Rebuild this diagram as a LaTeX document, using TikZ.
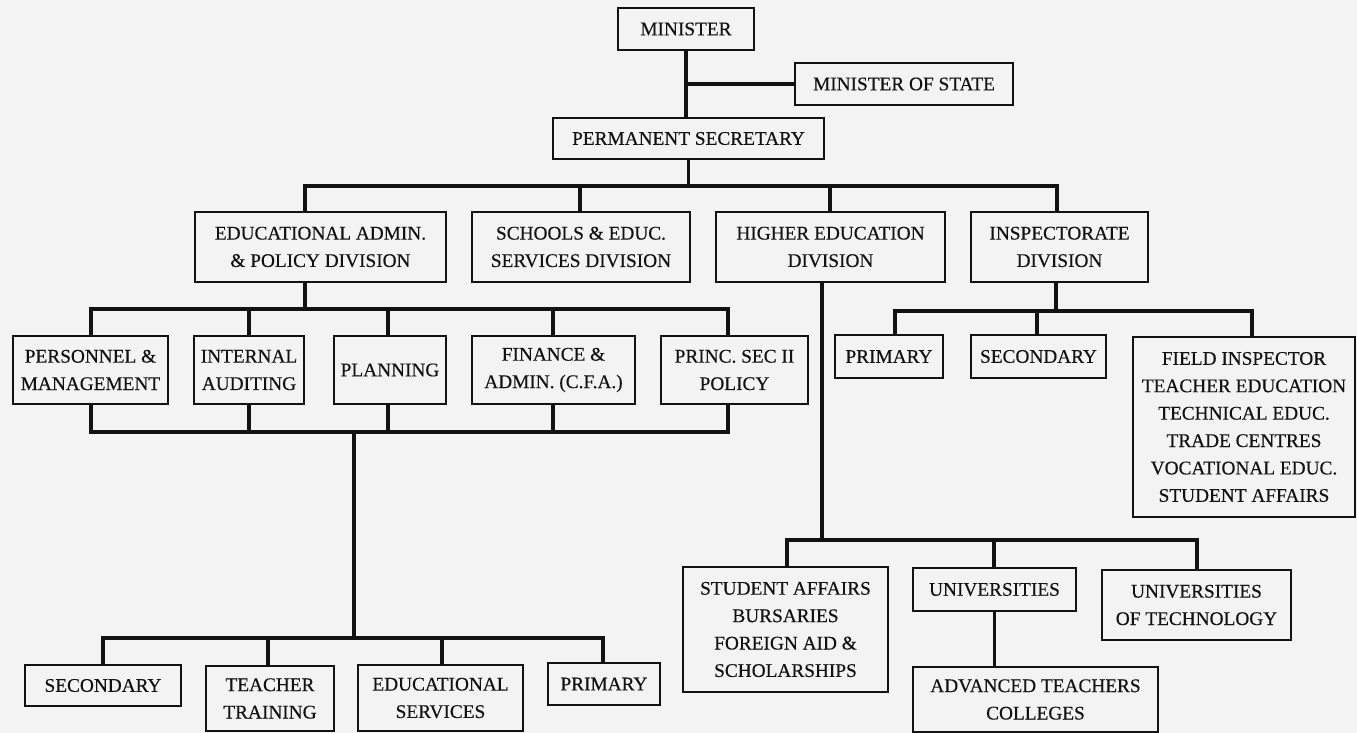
\documentclass[tikz,border=0pt]{standalone}
\usepackage{fontspec}
\setmainfont{Liberation Serif}
\newfontfamily\chartfont{Liberation Serif}[FakeBold=0.35]
\definecolor{paper}{RGB}{243,243,243}
\definecolor{ink}{RGB}{18,18,18}
\tikzset{
  box/.style={draw=ink, line width=2.8pt, fill=paper, inner sep=0pt, align=center,
    text=ink, font=\chartfont\fontsize{19.3}{27.4}\selectfont},
  link/.style={draw=ink, line width=3.8pt},
  bus/.style={link, line cap=rect},
}
\begin{document}
\begin{tikzpicture}[x=1pt,y=-1pt]
\useasboundingbox (0,0) rectangle (1357,733);
\fill[paper] (0,0) rectangle (1357,733);

% ---- top levels
\node[box, minimum width=136pt, minimum height=42pt] (min) at (686,29) {MINISTER};
\node[box, minimum width=218pt, minimum height=42pt] (mos) at (904,84) {MINISTER OF STATE};
\node[box, minimum width=271pt, minimum height=41pt] (ps) at (688.5,138.5) {PERMANENT SECRETARY};

% ---- divisions
\node[box, minimum width=251pt, minimum height=70pt] (ead) at (320.5,247) {EDUCATIONAL ADMIN.\\ \& POLICY DIVISION};
\node[box, minimum width=218pt, minimum height=70pt] (sch) at (581,247) {SCHOOLS \& EDUC.\\ SERVICES DIVISION};
\node[box, minimum width=229pt, minimum height=70pt] (hed) at (830.5,247) {HIGHER EDUCATION\\ DIVISION};
\node[box, minimum width=177pt, minimum height=70pt] (ins) at (1059.5,247) {INSPECTORATE\\ DIVISION};

% ---- under educational admin
\node[box, minimum width=155pt, minimum height=68pt] (per) at (90.5,370) {PERSONNEL \&\\ MANAGEMENT};
\node[box, minimum width=110pt, minimum height=68pt] (int) at (249,370) {INTERNAL\\ AUDITING};
\node[box, minimum width=112pt, minimum height=68pt] (pla) at (390,370) {PLANNING};
\node[box, minimum width=163pt, minimum height=68pt] (fin) at (553.5,370) {FINANCE \&\\ ADMIN. (C.F.A.)};
\node[box, minimum width=147pt, minimum height=68pt] (pol) at (734.5,370) {PRINC. SEC II\\ POLICY};

% ---- under inspectorate
\node[box, minimum width=108pt, minimum height=43pt] (ipr) at (889,356.5) {PRIMARY};
\node[box, minimum width=135pt, minimum height=43pt] (isc) at (1038.5,356.5) {SECONDARY};
\node[box, minimum width=222pt, minimum height=180pt] (fld) at (1244,427) {FIELD INSPECTOR\\ TEACHER EDUCATION\\ TECHNICAL EDUC.\\ TRADE CENTRES\\ VOCATIONAL EDUC.\\ STUDENT AFFAIRS};

% ---- bottom left
\node[box, minimum width=156pt, minimum height=41pt] (bsc) at (103,685.5) {SECONDARY};
\node[box, minimum width=128pt, minimum height=65pt] (btt) at (270,698.5) {TEACHER\\ TRAINING};
\node[box, minimum width=165pt, minimum height=66pt] (bes) at (440.5,698) {EDUCATIONAL\\ SERVICES};
\node[box, minimum width=112pt, minimum height=42pt] (bpr) at (604,684) {PRIMARY};

% ---- under higher education
\node[box, minimum width=205pt, minimum height=125pt] (sa) at (785.5,629.5) {STUDENT AFFAIRS\\ BURSARIES\\ FOREIGN AID \&\\ SCHOLARSHIPS};
\node[box, minimum width=163pt, minimum height=43pt] (uni) at (994.5,589.5) {UNIVERSITIES};
\node[box, minimum width=189pt, minimum height=70pt] (uot) at (1196.5,605) {UNIVERSITIES\\ OF TECHNOLOGY};
\node[box, minimum width=245pt, minimum height=65pt] (atc) at (1035.5,699.5) {ADVANCED TEACHERS\\ COLLEGES};

% ---- junction coordinates
\coordinate (t1) at (305,186);
\coordinate (t2) at (580,186);
\coordinate (t3) at (830,186);
\coordinate (t4) at (1057,186);
\coordinate (a0) at (305,309);
\coordinate (a1) at (91,309);
\coordinate (a2) at (249,309);
\coordinate (a3) at (388,309);
\coordinate (a4) at (553,309);
\coordinate (a5) at (728,309);
\coordinate (b1) at (91,432);
\coordinate (b2) at (249,432);
\coordinate (b3) at (388,432);
\coordinate (b4) at (553,432);
\coordinate (b5) at (728,432);
\coordinate (bc) at (354,432);
\coordinate (c0) at (354,638);
\coordinate (c1) at (103,638);
\coordinate (c2) at (268,638);
\coordinate (c3) at (442,638);
\coordinate (c4) at (603,638);
\coordinate (i0) at (1056,311);
\coordinate (i1) at (895,311);
\coordinate (i2) at (1037,311);
\coordinate (i3) at (1252,311);
\coordinate (h0) at (822,540);
\coordinate (h1) at (787,540);
\coordinate (h2) at (994,540);
\coordinate (h3) at (1197,540);

% ---- connectors: top
\draw[link] (min.south) -- (min.south |- ps.north);
\draw[link] (mos.west -| min.south) -- (mos.west);
\draw[link] (ps.south) -- (ps.south |- t1);
\draw[bus] (t1) -- (t4);
\draw[link] (t1) -- (t1 |- ead.north);
\draw[link] (t2) -- (t2 |- sch.north);
\draw[link] (t3) -- (t3 |- hed.north);
\draw[link] (t4) -- (t4 |- ins.north);

% ---- educational admin branch
\draw[link] (a0 |- ead.south) -- (a0);
\draw[bus] (a1) -- (a5);
\draw[link] (a1) -- (a1 |- per.north);
\draw[link] (a2) -- (a2 |- int.north);
\draw[link] (a3) -- (a3 |- pla.north);
\draw[link] (a4) -- (a4 |- fin.north);
\draw[link] (a5) -- (a5 |- pol.north);
\draw[link] (b1 |- per.south) -- (b1);
\draw[link] (b2 |- int.south) -- (b2);
\draw[link] (b3 |- pla.south) -- (b3);
\draw[link] (b4 |- fin.south) -- (b4);
\draw[link] (b5 |- pol.south) -- (b5);
\draw[bus] (b1) -- (b5);
\draw[link] (bc) -- (c0);
\draw[bus] (c1) -- (c4);
\draw[link] (c1) -- (c1 |- bsc.north);
\draw[link] (c2) -- (c2 |- btt.north);
\draw[link] (c3) -- (c3 |- bes.north);
\draw[link] (c4) -- (c4 |- bpr.north);

% ---- inspectorate branch
\draw[link] (i0 |- ins.south) -- (i0);
\draw[bus] (i1) -- (i3);
\draw[link] (i1) -- (i1 |- ipr.north);
\draw[link] (i2) -- (i2 |- isc.north);
\draw[link] (i3) -- (i3 |- fld.north);

% ---- higher education branch
\draw[link] (h0 |- hed.south) -- (h0);
\draw[bus] (h1) -- (h3);
\draw[link] (h1) -- (h1 |- sa.north);
\draw[link] (h2) -- (h2 |- uni.north);
\draw[link] (h3) -- (h3 |- uot.north);
\draw[link] (uni.south) -- (uni.south |- atc.north);
\end{tikzpicture}
\end{document}
